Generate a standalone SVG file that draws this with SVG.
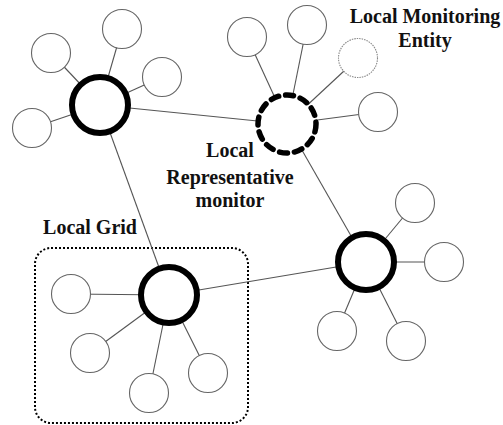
<svg xmlns="http://www.w3.org/2000/svg" width="503" height="425" viewBox="0 0 503 425">
<style>
.bg{fill:#fff}
.edge{stroke:#555;stroke-width:1.1;fill:none}
.leaf{fill:#fff;stroke:#666;stroke-width:1.1}
.leafd{fill:#fff;stroke:#888;stroke-width:1.1;stroke-dasharray:1.5 1}
.hub{fill:#fff;stroke:#000;stroke-width:6}
.hubd{fill:#fff;stroke:#000;stroke-width:5.5;stroke-dasharray:8 7;stroke-linecap:round}
.grid{fill:none;stroke:#000;stroke-width:2;stroke-dasharray:2 2}
.lbl{font-family:"Liberation Serif","Times New Roman",serif;font-weight:bold;font-size:20px;fill:#111;text-anchor:middle}
</style>
<rect class="bg" x="0" y="0" width="503" height="425"/>
<g id="local-grid">
<rect class="grid" x="35" y="248" width="213" height="175" rx="16"/>
<text class="lbl" x="90" y="234">Local Grid</text>
</g>
<g id="connectors">
<line class="edge" x1="100" y1="105" x2="287" y2="124"/>
<line class="edge" x1="100" y1="105" x2="169" y2="295"/>
<line class="edge" x1="287" y1="124" x2="366" y2="262"/>
<line class="edge" x1="169" y1="295" x2="366" y2="262"/>
<line class="edge" x1="100" y1="105" x2="51" y2="53"/>
<line class="edge" x1="100" y1="105" x2="122" y2="29"/>
<line class="edge" x1="100" y1="105" x2="162" y2="77"/>
<line class="edge" x1="100" y1="105" x2="32" y2="128"/>
<line class="edge" x1="287" y1="124" x2="247" y2="37"/>
<line class="edge" x1="287" y1="124" x2="307" y2="25"/>
<line class="edge" x1="287" y1="124" x2="358" y2="58"/>
<line class="edge" x1="287" y1="124" x2="378" y2="112"/>
<line class="edge" x1="366" y1="262" x2="415" y2="203"/>
<line class="edge" x1="366" y1="262" x2="444" y2="262"/>
<line class="edge" x1="366" y1="262" x2="337" y2="331"/>
<line class="edge" x1="366" y1="262" x2="406" y2="341"/>
<line class="edge" x1="169" y1="295" x2="71" y2="294"/>
<line class="edge" x1="169" y1="295" x2="90" y2="353"/>
<line class="edge" x1="169" y1="295" x2="149" y2="393"/>
<line class="edge" x1="169" y1="295" x2="208" y2="373"/>
</g>
<g id="hub-top-left">
<circle class="hub" cx="100" cy="105" r="28"/>
</g>
<g id="hub-representative">
<circle class="hubd" cx="287" cy="124" r="29"/>
<text class="lbl" x="230" y="157">Local</text>
<text class="lbl" x="230" y="184">Representative</text>
<text class="lbl" x="230" y="207">monitor</text>
</g>
<g id="hub-right">
<circle class="hub" cx="366" cy="262" r="28"/>
</g>
<g id="hub-grid">
<circle class="hub" cx="169" cy="295" r="28"/>
</g>
<g id="leaf-1"><circle class="leaf" cx="51" cy="53" r="19.5"/></g>
<g id="leaf-2"><circle class="leaf" cx="122" cy="29" r="19.5"/></g>
<g id="leaf-3"><circle class="leaf" cx="162" cy="77" r="19.5"/></g>
<g id="leaf-4"><circle class="leaf" cx="32" cy="128" r="19.5"/></g>
<g id="leaf-5"><circle class="leaf" cx="247" cy="37" r="19.5"/></g>
<g id="leaf-6"><circle class="leaf" cx="307" cy="25" r="19.5"/></g>
<g id="leaf-monitoring-entity">
<circle class="leafd" cx="358" cy="58" r="19.5"/>
<text class="lbl" x="425" y="23">Local Monitoring</text>
<text class="lbl" x="425" y="47">Entity</text>
</g>
<g id="leaf-8"><circle class="leaf" cx="378" cy="112" r="19.5"/></g>
<g id="leaf-9"><circle class="leaf" cx="415" cy="203" r="19.5"/></g>
<g id="leaf-10"><circle class="leaf" cx="444" cy="262" r="19.5"/></g>
<g id="leaf-11"><circle class="leaf" cx="337" cy="331" r="19.5"/></g>
<g id="leaf-12"><circle class="leaf" cx="406" cy="341" r="19.5"/></g>
<g id="leaf-13"><circle class="leaf" cx="71" cy="294" r="19.5"/></g>
<g id="leaf-14"><circle class="leaf" cx="90" cy="353" r="19.5"/></g>
<g id="leaf-15"><circle class="leaf" cx="149" cy="393" r="19.5"/></g>
<g id="leaf-16"><circle class="leaf" cx="208" cy="373" r="19.5"/></g>
</svg>
